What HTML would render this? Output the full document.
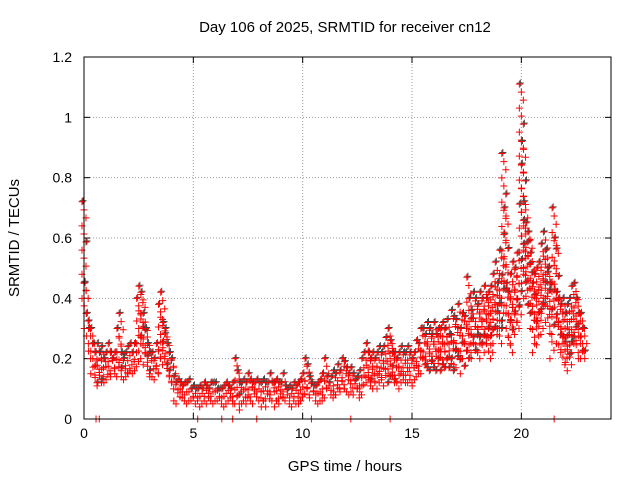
<!DOCTYPE html>
<html><head><meta charset="utf-8"><style>
body{margin:0;background:#fff;}
svg{font-family:"Liberation Sans",sans-serif;font-size:14px;}
</style></head><body>
<svg id="chart" width="640" height="480" viewBox="0 0 640 480" xmlns="http://www.w3.org/2000/svg">
<text x="345" y="32" text-anchor="middle" style="font-size:15px">Day 106 of 2025, SRMTID for receiver cn12</text>
<text x="345" y="471" text-anchor="middle" style="font-size:15px">GPS time / hours</text>
<text transform="translate(19,238) rotate(-90)" text-anchor="middle" style="font-size:15px">SRMTID / TECUs</text>
<g id="grid"></g><g id="ticks"></g><g id="marks"></g>
<rect x="84" y="57" width="527" height="362" fill="none" stroke="#000" stroke-width="1"/>
</svg>
<script>
const xTicks=[0,5,10,15,20];
const yTicks=[0,0.2,0.4,0.6,0.8,1,1.2];
const yTickLabels=["0","0.2","0.4","0.6","0.8","1","1.2"];
const startHour=0, stepHour=0.1;
const srmtid=[0.72,0.45,0.35,0.3,0.3,0.25,0.22,0.25,0.22,0.24,
0.2,0.22,0.25,0.22,0.2,0.22,0.3,0.35,0.22,0.2,
0.22,0.24,0.25,0.22,0.25,0.4,0.44,0.42,0.35,0.3,
0.25,0.22,0.22,0.2,0.25,0.38,0.42,0.32,0.3,0.25,
0.22,0.2,0.14,0.12,0.13,0.12,0.11,0.12,0.12,0.13,
0.1,0.11,0.1,0.1,0.11,0.1,0.12,0.11,0.1,0.12,
0.12,0.12,0.1,0.1,0.1,0.11,0.12,0.11,0.1,0.12,
0.2,0.16,0.12,0.12,0.13,0.12,0.15,0.13,0.12,0.12,
0.13,0.12,0.12,0.13,0.12,0.12,0.15,0.12,0.12,0.13,
0.12,0.12,0.15,0.11,0.1,0.11,0.1,0.12,0.11,0.12,
0.13,0.15,0.2,0.18,0.14,0.12,0.11,0.11,0.12,0.13,
0.15,0.2,0.14,0.12,0.14,0.16,0.15,0.18,0.16,0.2,
0.19,0.17,0.15,0.17,0.15,0.13,0.14,0.16,0.2,0.22,
0.25,0.22,0.2,0.22,0.2,0.22,0.24,0.22,0.24,0.27,
0.3,0.26,0.22,0.22,0.2,0.22,0.24,0.22,0.22,0.24,
0.22,0.2,0.22,0.26,0.25,0.3,0.3,0.28,0.32,0.3,
0.28,0.32,0.28,0.3,0.3,0.32,0.3,0.33,0.28,0.36,
0.34,0.33,0.38,0.3,0.35,0.34,0.47,0.4,0.36,0.42,
0.4,0.38,0.42,0.4,0.44,0.4,0.42,0.44,0.48,0.52,
0.45,0.56,0.88,0.7,0.45,0.42,0.48,0.52,0.5,0.55,
1.11,0.92,0.72,0.65,0.62,0.55,0.45,0.48,0.5,0.52,
0.58,0.62,0.56,0.5,0.45,0.7,0.6,0.42,0.4,0.38,
0.4,0.35,0.38,0.4,0.44,0.45,0.4,0.35,0.35,0.3];
const srmtidLow=[0.4,0.3,0.25,0.2,0.15,0.12,0.11,0.13,0.12,0.14,
0.12,0.13,0.15,0.14,0.14,0.15,0.17,0.16,0.14,0.13,
0.14,0.15,0.16,0.15,0.16,0.2,0.25,0.22,0.18,0.16,
0.15,0.14,0.14,0.13,0.15,0.18,0.2,0.18,0.16,0.14,
0.12,0.1,0.06,0.05,0.07,0.06,0.05,0.06,0.06,0.07,
0.05,0.06,0.04,0.05,0.06,0.05,0.07,0.06,0.05,0.06,
0.06,0.07,0.05,0.04,0.05,0.06,0.07,0.06,0.05,0.05,
0.08,0.05,0.03,0.05,0.07,0.05,0.08,0.06,0.05,0.06,
0.07,0.06,0.04,0.06,0.04,0.06,0.08,0.06,0.04,0.06,
0.05,0.06,0.07,0.05,0.04,0.06,0.05,0.07,0.06,0.05,
0.06,0.08,0.1,0.08,0.07,0.06,0.05,0.06,0.06,0.07,
0.08,0.1,0.08,0.07,0.08,0.09,0.08,0.1,0.09,0.1,
0.1,0.09,0.08,0.09,0.08,0.07,0.08,0.09,0.11,0.12,
0.13,0.11,0.1,0.12,0.1,0.12,0.13,0.11,0.12,0.14,
0.15,0.13,0.12,0.12,0.1,0.12,0.13,0.12,0.12,0.13,
0.12,0.11,0.13,0.15,0.15,0.18,0.17,0.16,0.19,0.17,
0.16,0.2,0.16,0.18,0.17,0.2,0.17,0.2,0.16,0.2,
0.18,0.17,0.2,0.15,0.2,0.2,0.25,0.22,0.2,0.25,
0.22,0.2,0.25,0.22,0.25,0.2,0.22,0.25,0.28,0.3,
0.25,0.3,0.45,0.35,0.25,0.22,0.28,0.32,0.3,0.32,
0.5,0.45,0.4,0.38,0.35,0.3,0.22,0.25,0.28,0.3,
0.35,0.38,0.32,0.28,0.2,0.4,0.32,0.25,0.22,0.18,
0.2,0.16,0.18,0.22,0.25,0.26,0.22,0.2,0.2,0.2];
const zeroHours=[0.55,0.7,5.2,6.3,6.8,7.9,10.4,12.2,14.0,21.5];
const X0=84,X1=611,Y0=419,Y1=57,XMAX=24.1,YMAX=1.2;
const xs=h=>X0+(X1-X0)*h/XMAX, ys=v=>Y0-(Y0-Y1)*v/YMAX;
const NS="http://www.w3.org/2000/svg";
function mk(t,a,p){const e=document.createElementNS(NS,t);for(const k in a)e.setAttribute(k,a[k]);p.appendChild(e);return e;}
const grid=document.getElementById('grid'),ticks=document.getElementById('ticks'),marks=document.getElementById('marks');
xTicks.forEach(t=>{const x=xs(t);
 if(t>0){const g=mk('line',{x1:x,x2:x,y1:Y0,y2:Y1,stroke:'#999','stroke-dasharray':'1,2'},grid);
 
 }
 mk('line',{x1:x,x2:x,y1:Y0,y2:Y0-6,stroke:'#000'},ticks);mk('line',{x1:x,x2:x,y1:Y1,y2:Y1+6,stroke:'#000'},ticks);
 const l=mk('text',{x:x,y:Y0+19,'text-anchor':'middle'},ticks);l.textContent=t;
 
 });
yTicks.forEach((t,i)=>{const y=ys(t);
 if(t>0&&t<1.2){const g=mk('line',{x1:X0,x2:X1,y1:y,y2:y,stroke:'#999','stroke-dasharray':'1,2'},grid);
 
 }
 mk('line',{x1:X0,x2:X0+6,y1:y,y2:y,stroke:'#000'},ticks);mk('line',{x1:X1,x2:X1-6,y1:y,y2:y,stroke:'#000'},ticks);
 const l=mk('text',{x:X0-12,y:y+5,'text-anchor':'end'},ticks);l.textContent=yTickLabels[i];
 
 });
function plus(x,y,c,name){const p=mk('path',{d:`M${x-3.5},${y}h7M${x},${y-3.5}v7`,stroke:c,'stroke-width':1,fill:'none'},marks);
 
 }
srmtid.forEach((v,i)=>{
 const h=startHour+i*stepHour, lo=srmtidLow[i];
 const yHi=ys(v), yLo=ys(lo);
 const n=Math.max(1,Math.round((yLo-yHi)/8));
 for(let k=0;k<=n;k++){
  const y=yHi+(yLo-yHi)*k/n, x=xs(h)+((k%3)-1)*2;
  if(k%5===0) plus(x+1,y-1,'#444','point-dark');
  plus(x,y,'#f00','point');
 }
});
zeroHours.forEach(h=>plus(xs(h),ys(0),'#f00','zero-point'));
</script>
</body></html>
